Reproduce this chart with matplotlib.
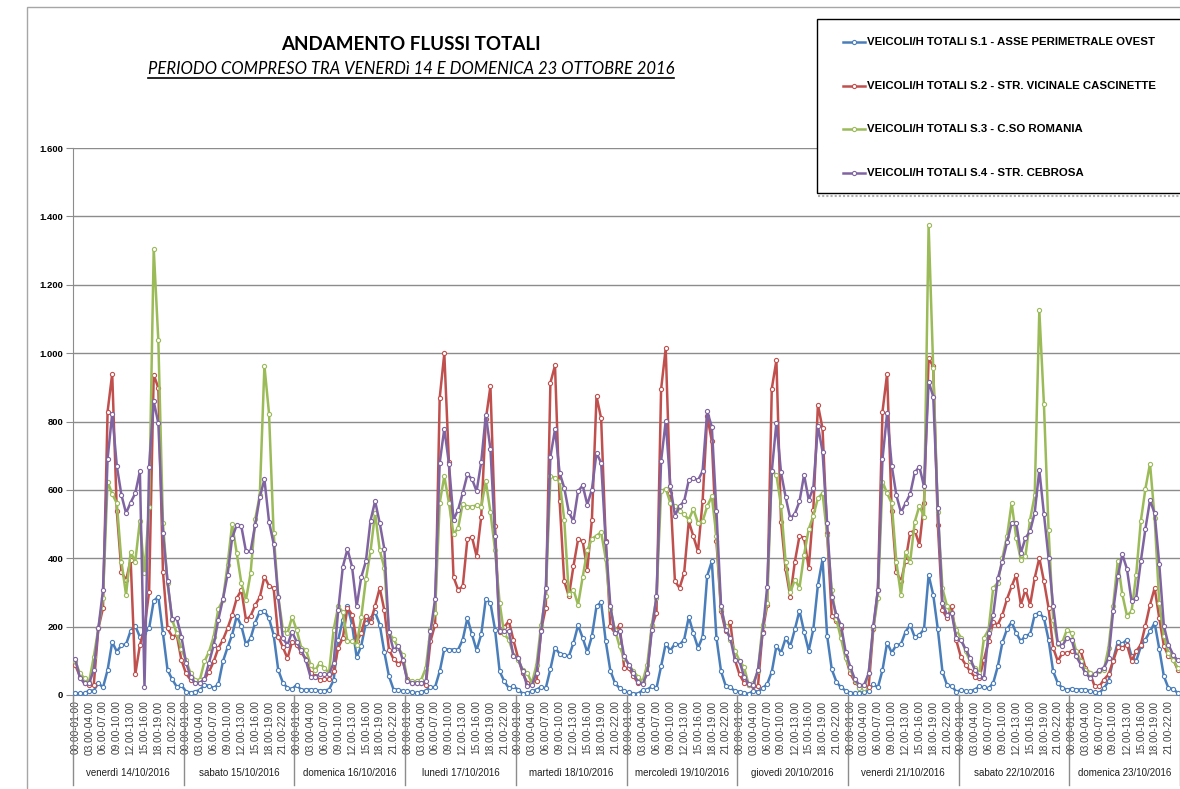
#Andamento flussi totali - veicoli/h per sezione

import numpy as np
import matplotlib
matplotlib.use('Agg')
import matplotlib.pyplot as plt
import matplotlib.transforms as mtransforms
from matplotlib.patches import Rectangle
from matplotlib.lines import Line2D
from matplotlib.ticker import FuncFormatter

# Days and hourly categories
days = ['venerdì 14/10/2016', 'sabato 15/10/2016', 'domenica 16/10/2016',
        'lunedì 17/10/2016', 'martedì 18/10/2016', 'mercoledì 19/10/2016',
        'giovedì 20/10/2016', 'venerdì 21/10/2016', 'sabato 22/10/2016',
        'domenica 23/10/2016']
hours = ['%02d.00-%02d.00' % (h, h + 1) for h in range(24)]

# Series values (veicoli/h), 24 values per day
s1 = [5, 5, 5, 13, 13, 35, 22, 73, 155, 127, 146, 148, 188, 202, 170, 180, 195, 275, 288, 180, 73, 46, 24, 29,
      10, 7, 10, 15, 29, 27, 21, 31, 98, 139, 176, 231, 202, 148, 166, 212, 244, 246, 224, 176, 73, 36, 21, 17,
      30, 14, 16, 16, 14, 13, 13, 16, 43, 162, 220, 260, 206, 110, 144, 211, 225, 242, 206, 125, 55, 16, 16, 11,
      11, 8, 6, 8, 13, 23, 23, 69, 135, 133, 133, 133, 162, 225, 177, 131, 177, 281, 269, 191, 69, 40, 20, 25,
      16, 4, 6, 11, 16, 23, 20, 76, 138, 121, 118, 113, 152, 204, 167, 125, 172, 260, 271, 157, 71, 35, 20, 11,
      8, 4, 4, 14, 16, 25, 20, 84, 150, 130, 150, 147, 162, 228, 181, 138, 170, 349, 391, 167, 69, 27, 23, 11,
      10, 7, 3, 13, 10, 20, 32, 68, 143, 124, 166, 143, 192, 247, 185, 130, 192, 322, 397, 173, 75, 39, 22, 13,
      7, 5, 5, 10, 13, 32, 22, 73, 153, 124, 146, 149, 185, 205, 169, 176, 192, 351, 293, 192, 68, 29, 26, 10,
      14, 11, 11, 16, 25, 22, 20, 35, 84, 154, 193, 213, 181, 157, 174, 177, 235, 240, 225, 162, 69, 35, 20, 16,
      18, 16, 16, 16, 11, 8, 6, 20, 40, 103, 154, 150, 162, 113, 99, 142, 162, 186, 211, 135, 55, 20, 18, 6]

s2 = [88, 54, 34, 29, 29, 195, 254, 829, 940, 537, 361, 335, 395, 60, 146, 195, 302, 937, 898, 361, 195, 171, 176, 102,
      63, 44, 39, 44, 46, 68, 98, 137, 161, 195, 234, 283, 307, 220, 231, 263, 286, 346, 319, 312, 171, 140, 107, 156,
      147, 125, 105, 64, 55, 45, 47, 47, 69, 138, 167, 255, 235, 157, 181, 232, 213, 261, 313, 248, 133, 105, 92, 99,
      47, 35, 35, 35, 30, 157, 206, 869, 999, 681, 345, 308, 318, 455, 462, 406, 521, 806, 903, 494, 183, 199, 216, 160,
      108, 64, 35, 35, 40, 191, 255, 913, 964, 567, 333, 289, 377, 455, 450, 367, 513, 874, 809, 450, 201, 181, 206, 79,
      79, 55, 35, 35, 64, 201, 240, 894, 1014, 591, 333, 313, 357, 508, 464, 420, 567, 816, 742, 450, 245, 186, 213, 103,
      60, 36, 29, 26, 26, 185, 263, 896, 979, 507, 368, 288, 390, 465, 460, 371, 541, 849, 780, 473, 231, 215, 195, 112,
      63, 39, 24, 24, 24, 192, 307, 829, 940, 537, 361, 332, 393, 475, 481, 439, 561, 985, 961, 497, 249, 224, 259, 160,
      111, 89, 69, 53, 50, 103, 157, 213, 206, 235, 281, 318, 352, 264, 308, 264, 342, 401, 333, 255, 138, 99, 123, 123,
      128, 125, 128, 79, 64, 25, 25, 45, 60, 99, 140, 137, 147, 99, 128, 147, 203, 264, 313, 225, 144, 113, 105, 74]

s3 = [98, 63, 49, 39, 112, 195, 283, 624, 588, 561, 390, 293, 418, 390, 510, 356, 551, 1305, 1037, 502, 327, 220, 180, 134,
      102, 63, 44, 44, 98, 127, 171, 251, 278, 380, 500, 415, 327, 278, 356, 514, 585, 963, 823, 473, 288, 192, 180, 229,
      189, 138, 133, 89, 72, 94, 79, 64, 191, 260, 242, 157, 157, 147, 228, 338, 420, 533, 423, 372, 181, 164, 138, 118,
      45, 40, 40, 45, 79, 193, 240, 562, 640, 562, 470, 489, 560, 551, 551, 555, 551, 625, 535, 423, 269, 177, 162, 118,
      103, 74, 64, 35, 89, 206, 289, 640, 635, 625, 513, 294, 308, 264, 345, 423, 457, 466, 476, 398, 252, 191, 142, 108,
      89, 69, 53, 40, 89, 206, 284, 596, 604, 562, 553, 537, 528, 513, 544, 503, 508, 552, 581, 464, 252, 201, 162, 130,
      100, 81, 29, 34, 71, 205, 268, 654, 644, 553, 390, 300, 337, 314, 410, 485, 524, 576, 590, 468, 307, 221, 166, 107,
      75, 44, 20, 20, 63, 195, 283, 624, 590, 561, 390, 293, 417, 390, 507, 553, 522, 1375, 956, 534, 312, 259, 239, 190,
      168, 128, 99, 79, 64, 167, 191, 313, 328, 401, 464, 562, 460, 396, 408, 513, 584, 1125, 850, 484, 220, 150, 155, 191,
      181, 128, 99, 74, 64, 60, 69, 74, 138, 260, 391, 294, 232, 245, 352, 508, 603, 677, 518, 269, 172, 123, 103, 79]

s4 = [104, 51, 34, 34, 73, 195, 307, 691, 823, 670, 585, 532, 563, 590, 654, 24, 668, 859, 795, 475, 332, 221, 224, 171,
      95, 54, 34, 36, 46, 95, 146, 220, 280, 351, 459, 498, 493, 420, 421, 498, 579, 631, 507, 442, 286, 166, 146, 185,
      155, 131, 101, 53, 53, 60, 61, 60, 94, 248, 375, 427, 375, 260, 345, 391, 510, 567, 503, 427, 183, 131, 144, 103,
      40, 35, 35, 35, 40, 186, 281, 679, 779, 677, 513, 542, 591, 645, 632, 596, 681, 820, 720, 464, 186, 186, 186, 113,
      108, 69, 25, 30, 64, 186, 313, 697, 777, 650, 606, 535, 508, 596, 613, 557, 601, 708, 679, 447, 260, 181, 186, 113,
      89, 64, 37, 32, 64, 191, 289, 684, 801, 611, 525, 552, 567, 628, 635, 628, 655, 830, 784, 538, 260, 191, 167, 103,
      98, 54, 32, 29, 73, 182, 317, 654, 797, 651, 579, 517, 530, 566, 644, 571, 605, 787, 712, 502, 286, 234, 205, 127,
      83, 46, 29, 29, 63, 202, 307, 690, 824, 671, 585, 534, 561, 588, 651, 668, 610, 917, 873, 546, 268, 234, 239, 166,
      160, 135, 108, 74, 55, 50, 181, 235, 341, 390, 447, 503, 503, 416, 459, 479, 533, 658, 530, 401, 260, 152, 144, 167,
      162, 113, 89, 64, 50, 60, 74, 79, 108, 245, 347, 411, 369, 274, 284, 391, 486, 570, 531, 384, 203, 147, 118, 101]

labels = ['VEICOLI/H TOTALI S.1 - ASSE PERIMETRALE OVEST',
          'VEICOLI/H TOTALI S.2 - STR. VICINALE CASCINETTE',
          'VEICOLI/H TOTALI S.3 - C.SO ROMANIA',
          'VEICOLI/H TOTALI S.4 - STR. CEBROSA']
colors = ['#4a7ebb', '#c0504d', '#9bbb59', '#8064a2']

W, H = 1180, 789
fig = plt.figure(figsize=(W / 100, H / 100), dpi=100)
fig.patch.set_facecolor('white')

# chart area border (only top and left visible)
fig.add_artist(Rectangle((27 / W, -0.1), 1.2, 1.1 - 7 / H, transform=fig.transFigure,
                         fill=False, edgecolor='#a6a6a6', lw=1, zorder=0))

ax = fig.add_axes([73 / W, 1 - 695 / H, 1107 / W, 547 / H])
x = np.arange(len(s1))
for s, c in zip([s1, s2, s3, s4], colors):
    ax.plot(x, s, color=c, lw=1.8, marker='o', ms=3, mfc='white', mec=c, mew=0.8, zorder=3)

ax.set_xlim(-0.5, len(s1) - 0.5)
ax.set_ylim(0, 1600)
ax.set_yticks(np.arange(0, 1601, 200))
ax.yaxis.set_major_formatter(FuncFormatter(lambda v, p: '{:,}'.format(int(v)).replace(',', '.')))
ax.grid(axis='y', color='#8c8c8c', lw=1)
ax.set_axisbelow(True)
for sp in ['top', 'right']:
    ax.spines[sp].set_visible(False)
ax.spines['left'].set_color('#8c8c8c')
ax.spines['bottom'].set_color('#8c8c8c')

# hour tick labels every 3 hours
tpos = [d * 24 + h for d in range(len(days)) for h in range(0, 24, 3)]
ax.set_xticks(tpos)
ax.set_xticklabels([hours[p % 24] for p in tpos], rotation=90, fontsize=7.3,
                   family='Liberation Sans', color='#404040')
ax.tick_params(axis='x', length=0, pad=4)
ax.tick_params(axis='y', length=5, color='#8c8c8c', pad=2)
for t in ax.get_yticklabels():
    t.set_fontsize(6.8)
    t.set_fontweight('bold')
    t.set_family('Liberation Sans')

# day separators and day labels
trans = mtransforms.blended_transform_factory(ax.transData, ax.transAxes)
for d in range(len(days) + 1):
    ax.plot([d * 24 - 0.5] * 2, [0, -0.165], transform=trans, clip_on=False,
            color='#8c8c8c', lw=1)
for d, name in enumerate(days):
    ax.text(d * 24 + 11.5, -0.143, name, transform=trans, ha='center', va='center',
            fontsize=7, family='Liberation Sans', color='#202020')

# titles
fig.text(411 / W, 1 - 44 / H, 'ANDAMENTO FLUSSI TOTALI', ha='center', va='center',
         fontsize=13.5, fontweight='bold', family='Lato')
sub = fig.text(411 / W, 1 - 69 / H, 'PERIODO COMPRESO TRA VENERDì 14 E DOMENICA 23 OTTOBRE 2016',
               ha='center', va='center', fontsize=12, fontstyle='italic', family='Lato')
fig.canvas.draw()
bb = sub.get_window_extent().transformed(fig.transFigure.inverted())
fig.add_artist(Line2D([bb.x0, bb.x1], [bb.y0 - 1 / H] * 2, transform=fig.transFigure,
                      color='black', lw=1.2))

# legend box
fig.add_artist(Rectangle((817 / W, 1 - 193 / H), 1.0, 174 / H, transform=fig.transFigure,
                         facecolor='white', edgecolor='black', lw=1, zorder=5))
fig.add_artist(Line2D([818 / W, 1], [1 - 195.5 / H] * 2, transform=fig.transFigure,
                      color='#b0b0b0', lw=1.5, ls=(0, (1, 1)), zorder=5))
for i, (lab, c) in enumerate(zip(labels, colors)):
    yy = 1 - (42 + i * 43.7) / H
    fig.add_artist(Line2D([843 / W, 865 / W], [yy, yy], transform=fig.transFigure,
                          color=c, lw=1.8, zorder=6))
    fig.add_artist(Line2D([854 / W], [yy], transform=fig.transFigure, marker='o', ms=3,
                          mfc='white', mec=c, mew=0.8, zorder=7))
    fig.text(867 / W, yy, lab, ha='left', va='center', fontsize=8.2, fontweight='bold',
             family='Liberation Sans', zorder=7)

plt.savefig('out.png', dpi=100)
